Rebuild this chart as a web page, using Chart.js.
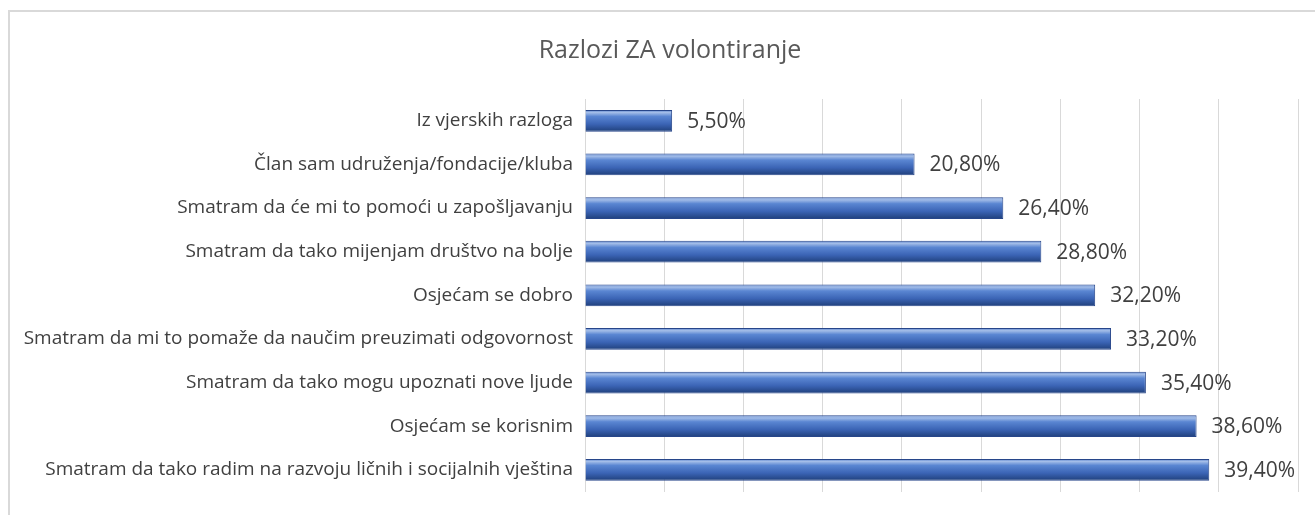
<!DOCTYPE html>
<html>
<head>
<meta charset="utf-8">
<script src="https://cdn.jsdelivr.net/npm/chart.js"></script>
<style>
  html, body { margin: 0; padding: 0; background: #fff; }
  #frame { position: absolute; left: 8px; top: 10px; width: 1400px; height: 600px; border: 2px solid #d9d9d9; }
  #wrap { position: absolute; left: 0; top: 0; width: 1315px; height: 515px; }
</style>
</head>
<body>
<div id="frame"></div>
<div id="wrap"><canvas id="chart" width="1315" height="515"></canvas></div>
<script>
// categories, top to bottom
const categories = [
    'Iz vjerskih razloga',
    'Član sam udruženja/fondacije/kluba',
    'Smatram da će mi to pomoći u zapošljavanju',
    'Smatram da tako mijenjam društvo na bolje',
    'Osjećam se dobro',
    'Smatram da mi to pomaže da naučim preuzimati odgovornost',
    'Smatram da tako mogu upoznati nove ljude',
    'Osjećam se korisnim',
    'Smatram da tako radim na razvoju ličnih i socijalnih vještina'
];
const values = [5.5, 20.8, 26.4, 28.8, 32.2, 33.2, 35.4, 38.6, 39.4];
const chartTitle = 'Razlozi ZA volontiranje';

const fontFamily = '"Open Sans", "Noto Sans", sans-serif';

function fmt(v) {
    return v.toFixed(2).replace('.', ',') + '%';
}

// per-bar vertical gradient (Excel style cylinder look)
const barShade = {
    id: 'barShade',
    afterLayout(chart) {
        // title sits a bit right of the canvas centre
        chart.titleBlock.left += 21;
        chart.titleBlock.right += 21;
    },
    beforeDatasetsDraw(chart) {
        const ctx = chart.ctx;
        chart.getDatasetMeta(0).data.forEach(el => {
            const top = el.y - el.height / 2;
            const bot = el.y + el.height / 2;
            const g = ctx.createLinearGradient(0, top, 0, bot);
            g.addColorStop(0, '#5a82cc');
            g.addColorStop(0.12, '#a3bde8');
            g.addColorStop(0.3, '#5a86d2');
            g.addColorStop(0.65, '#3b64b5');
            g.addColorStop(1, '#1f3f7a');
            el.options.backgroundColor = g;
        });
    }
};

// value labels at bar ends
const valueLabels = {
    id: 'valueLabels',
    afterDatasetsDraw(chart) {
        const ctx = chart.ctx;
        ctx.save();
        ctx.font = '21px ' + fontFamily;
        ctx.fillStyle = '#404040';
        ctx.textAlign = 'left';
        ctx.textBaseline = 'middle';
        chart.getDatasetMeta(0).data.forEach((el, i) => {
            ctx.fillText(fmt(values[i]), el.x + 15, el.y + 1);
        });
        ctx.restore();
    }
};

new Chart(document.getElementById('chart'), {
    type: 'bar',
    data: {
        labels: categories,
        datasets: [{
            data: values,
            backgroundColor: () => '#4472c4',
            borderColor: '#27468a',
            borderWidth: 1,
            barPercentage: 0.5,
            categoryPercentage: 1
        }]
    },
    options: {
        indexAxis: 'y',
        responsive: false,
        animation: false,
        layout: { padding: { left: 0, right: 17, top: 0, bottom: 22 } },
        plugins: {
            legend: { display: false },
            tooltip: { enabled: false },
            title: {
                display: true,
                text: chartTitle,
                color: '#595959',
                font: { family: fontFamily, size: 25, weight: 'normal' },
                padding: { top: 36, bottom: 33 }
            }
        },
        scales: {
            x: {
                min: 0,
                max: 45,
                ticks: { display: false, stepSize: 5 },
                grid: { color: '#d9d9d9', drawTicks: false },
                border: { display: false }
            },
            y: {
                grid: { display: false, drawTicks: false },
                border: { display: true, color: '#d9d9d9' },
                ticks: {
                    color: '#404040',
                    font: { family: fontFamily, size: 19 },
                    padding: 12
                },
                afterFit(scale) { scale.width = 585; }
            }
        }
    },
    plugins: [barShade, valueLabels]
});
</script>
</body>
</html>
